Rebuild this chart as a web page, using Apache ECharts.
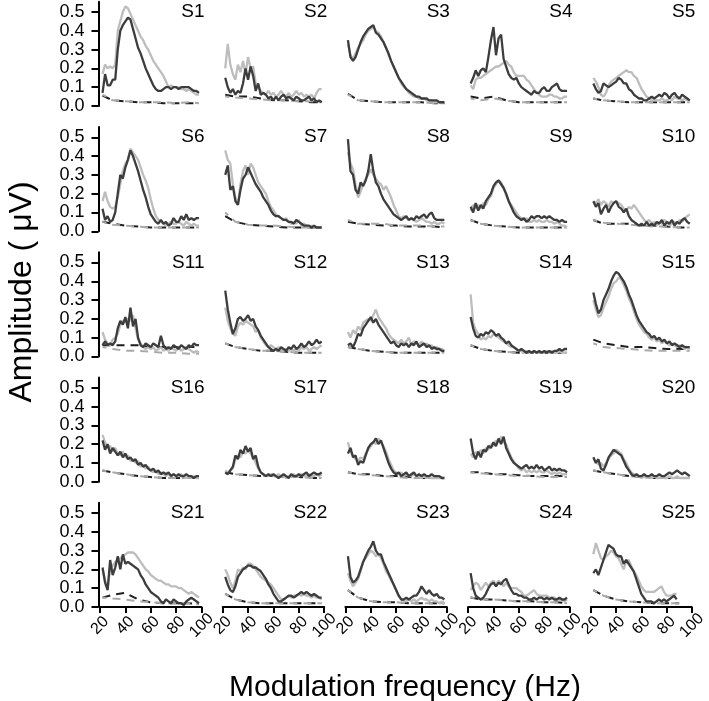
<!DOCTYPE html>
<html>
<head>
<meta charset="utf-8">
<script src="https://cdn.jsdelivr.net/npm/echarts@6/dist/echarts.min.js"></script>
<style>
  html, body { margin: 0; padding: 0; background: #fff; }
  #chart { width: 709px; height: 701px; }
</style>
</head>
<body>
<div id="chart"></div>
<script>
// modulation frequencies (Hz) of the response curves
const freqs = [22, 24, 26, 28, 30, 32, 34, 36, 38, 40, 42, 44, 46, 48, 50, 52, 54, 56, 58, 60,
  62, 64, 66, 68, 70, 72, 74, 76, 78, 80, 82, 84, 86, 88, 90, 92, 94, 96, 98];
// frequencies of the noise-floor (dashed) curves
const noiseFreqs = [22, 30, 40, 50, 60, 70, 80, 90, 98];

const panelNames = ['S1', 'S2', 'S3', 'S4', 'S5', 'S6', 'S7', 'S8', 'S9', 'S10',
  'S11', 'S12', 'S13', 'S14', 'S15', 'S16', 'S17', 'S18', 'S19', 'S20',
  'S21', 'S22', 'S23', 'S24', 'S25'];

const yTicks = [0, 0.1, 0.2, 0.3, 0.4, 0.5];
const xTicks = [20, 40, 60, 80, 100];

// dark grey solid curves, one row per subject
const darkAmp = [
  [.07,.17,.11,.11,.14,.14,.30,.40,.43,.45, .47,.46,.41,.36,.31,.28,.24,.20,.17,.14, .11,.09,.08,.08,.09,.10,.10,.09,.10,.10, .09,.10,.10,.10,.10,.09,.08,.08,.07],
  [.15,.10,.07,.09,.06,.08,.07,.12,.20,.14, .21,.16,.08,.12,.06,.07,.06,.04,.05,.03, .05,.03,.05,.06,.04,.05,.04,.03,.05,.04, .03,.03,.04,.05,.03,.04,.02,.03,.02],
  [.35,.26,.24,.26,.30,.34,.37,.39,.41,.42, .43,.39,.38,.36,.34,.31,.28,.24,.21,.18, .15,.13,.11,.09,.08,.07,.06,.05,.05,.04, .04,.04,.03,.03,.03,.03,.02,.02,.02],
  [.12,.15,.19,.16,.19,.20,.18,.26,.35,.42, .27,.36,.38,.25,.21,.17,.15,.14,.15,.12, .10,.09,.08,.07,.06,.08,.07,.07,.09,.10, .08,.08,.10,.11,.12,.09,.08,.08,.08],
  [.12,.09,.07,.08,.12,.11,.10,.11,.12,.13, .15,.14,.12,.12,.09,.08,.06,.05,.04,.04, .03,.03,.04,.05,.04,.05,.06,.05,.07,.06, .04,.06,.07,.05,.04,.06,.05,.04,.03],
  [.12,.06,.08,.05,.06,.10,.20,.30,.28,.34, .38,.43,.40,.36,.32,.27,.22,.18,.13,.09, .07,.05,.04,.06,.04,.05,.03,.04,.07,.05, .05,.08,.06,.09,.06,.07,.06,.07,.07],
  [.30,.35,.22,.24,.16,.14,.22,.28,.30,.34, .31,.28,.25,.23,.21,.18,.16,.14,.11,.09, .08,.08,.07,.06,.06,.05,.05,.04,.06,.05, .04,.03,.03,.03,.02,.03,.02,.02,.02],
  [.49,.32,.30,.22,.20,.26,.24,.27,.32,.41, .32,.26,.24,.20,.17,.15,.13,.11,.09,.08, .07,.06,.07,.08,.06,.07,.06,.08,.07,.08, .09,.07,.09,.10,.07,.06,.06,.06,.06],
  [.13,.10,.15,.11,.14,.12,.16,.18,.20,.24, .26,.27,.25,.23,.20,.16,.13,.10,.08,.07, .06,.07,.05,.06,.08,.07,.08,.08,.07,.08, .07,.08,.07,.06,.06,.05,.06,.05,.05],
  [.16,.13,.15,.09,.12,.14,.10,.13,.15,.16, .13,.12,.10,.12,.08,.06,.05,.04,.03,.04, .03,.05,.03,.04,.03,.05,.04,.06,.03,.05, .04,.06,.03,.05,.04,.06,.07,.05,.04],
  [.06,.08,.06,.07,.06,.08,.15,.19,.17,.21, .15,.26,.16,.20,.10,.06,.05,.07,.06,.05, .07,.06,.05,.11,.06,.04,.05,.04,.06,.05, .04,.06,.05,.04,.06,.05,.07,.06,.06],
  [.35,.25,.18,.12,.15,.20,.21,.19,.20,.22, .19,.20,.16,.14,.11,.09,.07,.05,.04,.03, .04,.03,.05,.04,.03,.05,.04,.06,.04,.05, .07,.05,.06,.08,.06,.07,.09,.07,.08],
  [.06,.07,.05,.08,.12,.11,.15,.17,.19,.21, .18,.20,.17,.15,.13,.11,.09,.07,.08,.06, .05,.07,.06,.07,.05,.07,.06,.08,.05,.06, .07,.05,.06,.04,.05,.04,.04,.03,.03],
  [.21,.15,.11,.10,.12,.11,.13,.12,.14,.13, .11,.12,.10,.09,.07,.08,.06,.05,.04,.03, .04,.03,.02,.03,.02,.03,.02,.03,.02,.03, .02,.03,.02,.03,.03,.04,.03,.04,.04],
  [.34,.28,.23,.25,.30,.33,.36,.40,.43,.45, .44,.42,.40,.37,.33,.30,.26,.22,.19,.17, .15,.13,.12,.10,.11,.09,.10,.08,.09,.07, .08,.06,.07,.06,.05,.06,.05,.05,.05],
  [.22,.17,.20,.15,.18,.16,.14,.16,.13,.15, .12,.13,.11,.12,.09,.10,.08,.09,.07,.06, .07,.05,.06,.04,.05,.04,.05,.03,.04,.03, .04,.03,.03,.04,.03,.03,.02,.03,.03],
  [.05,.04,.06,.08,.14,.12,.17,.15,.19,.16, .18,.12,.14,.08,.05,.04,.03,.04,.03,.04, .03,.02,.03,.04,.03,.02,.04,.03,.03,.04, .03,.04,.05,.03,.04,.05,.04,.04,.05],
  [.15,.18,.13,.14,.09,.11,.10,.14,.18,.20, .21,.23,.20,.22,.18,.14,.10,.07,.05,.04, .05,.03,.04,.05,.03,.04,.05,.03,.04,.03, .04,.03,.03,.04,.03,.03,.03,.02,.02],
  [.23,.15,.12,.16,.13,.17,.16,.19,.18,.21, .19,.23,.20,.24,.18,.15,.12,.10,.09,.08, .07,.08,.09,.07,.08,.07,.09,.07,.08,.06, .07,.08,.06,.07,.06,.07,.06,.06,.05],
  [.13,.10,.12,.07,.06,.09,.13,.15,.17,.16, .15,.14,.11,.08,.06,.04,.03,.04,.03,.03, .04,.03,.03,.04,.03,.03,.04,.03,.03,.04, .05,.04,.05,.06,.05,.04,.05,.04,.03],
  [.21,.13,.09,.25,.17,.21,.27,.20,.28,.23, .24,.23,.22,.21,.20,.17,.15,.12,.10,.08, .07,.06,.05,.03,.02,.04,.03,.02,.04,.03, .02,.02,.01,.03,.04,.05,.04,.03,.02],
  [.16,.12,.09,.08,.11,.16,.18,.20,.21,.22, .22,.21,.21,.20,.19,.17,.15,.12,.10,.07, .05,.03,.03,.04,.05,.06,.06,.05,.06,.07, .08,.07,.08,.07,.06,.07,.06,.05,.05],
  [.27,.16,.13,.14,.16,.20,.24,.27,.30,.32, .35,.30,.28,.28,.24,.21,.18,.15,.12,.09, .06,.04,.04,.05,.04,.05,.06,.06,.08,.11, .09,.07,.09,.07,.06,.07,.05,.05,.04],
  [.18,.10,.06,.05,.04,.05,.07,.10,.12,.13, .11,.13,.12,.14,.15,.12,.09,.07,.07,.06, .06,.05,.05,.04,.04,.05,.04,.05,.05,.04, .05,.04,.05,.04,.04,.05,.04,.04,.05],
  [.18,.20,.17,.21,.25,.29,.33,.32,.31,.28, .27,.27,.23,.25,.23,.21,.19,.15,.11,.07, .05,.03,.03,.03,.02,.03,.04,.03,.04,.03, .04,.05,.06,.04,null,null,null,null,null]
];

// light grey solid curves
const lightAmp = [
  [.17,.22,.20,.21,.20,.22,.40,.45,.50,.53, .52,.49,.46,.43,.40,.37,.35,.32,.30,.27, .24,.22,.20,.18,.16,.13,.10,.11,.10,.10, .10,.09,.09,.08,.09,.08,.07,.06,.06],
  [.20,.33,.22,.17,.14,.22,.18,.24,.17,.26, .20,.21,.12,.10,.08,.07,.06,.08,.06,.07, .05,.06,.08,.06,.05,.07,.05,.06,.08,.06, .07,.05,.06,.05,.06,.04,.07,.09,.09],
  [.33,.27,.25,.28,.31,.33,.35,.38,.40,.41, .42,.40,.39,.37,.34,.31,.27,.24,.21,.18, .15,.12,.10,.09,.07,.06,.05,.05,.04,.04, .04,.03,.03,.03,.02,.02,.02,.02,.02],
  [.11,.09,.14,.15,.15,.16,.17,.18,.19,.20, .21,.21,.22,.23,.24,.22,.21,.18,.16,.16, .16,.16,.14,.13,.11,.09,.07,.06,.05,.05, .05,.06,.06,.05,.05,.04,.04,.05,.05],
  [.15,.13,.10,.06,.05,.07,.11,.13,.14,.15, .16,.17,.18,.19,.18,.18,.16,.15,.12,.09, .07,.05,.04,.03,.03,.03,.03,.04,.03,.03, .04,.03,.05,.04,.04,.03,.04,.03,.03],
  [.16,.21,.16,.13,.12,.13,.18,.25,.32,.36, .38,.44,.42,.40,.38,.34,.30,.27,.23,.17, .12,.08,.06,.05,.04,.03,.04,.05,.04,.04, .05,.04,.03,.05,.04,.03,.04,.03,.03],
  [.43,.38,.36,.25,.18,.14,.25,.32,.35,.30, .36,.34,.30,.26,.24,.22,.20,.16,.13,.11, .09,.08,.07,.06,.07,.05,.04,.05,.04,.06, .03,.04,.03,.02,.03,.02,.02,.02,.02],
  [.42,.36,.33,.25,.18,.21,.25,.28,.30,.33, .30,.28,.26,.25,.22,.24,.21,.18,.14,.11, .08,.07,.08,.07,.06,.07,.06,.05,.06,.07, .06,.05,.05,.04,.05,.04,.04,.05,.04],
  [.11,.14,.12,.14,.12,.15,.14,.17,.19,.23, .25,.27,.26,.23,.19,.16,.14,.12,.10,.08, .07,.06,.07,.05,.05,.06,.05,.06,.05,.05, .06,.05,.05,.04,.05,.04,.03,.03,.02],
  [.16,.15,.17,.14,.16,.15,.13,.16,.15,.16, .15,.14,.12,.11,.13,.12,.14,.12,.10,.08, .06,.05,.06,.04,.05,.03,.05,.04,.06,.05, .03,.04,.05,.04,.06,.05,.07,.08,.09],
  [.13,.09,.07,.06,.09,.10,.12,.17,.19,.18, .20,.19,.22,.15,.09,.07,.05,.04,.05,.04, .05,.03,.04,.05,.03,.04,.03,.05,.04,.03, .05,.03,.04,.05,.04,.03,.02,.03,.02],
  [.26,.19,.15,.12,.11,.16,.18,.17,.19,.18, .17,.16,.13,.14,.10,.08,.06,.05,.06,.05, .04,.05,.04,.03,.04,.03,.04,.03,.04,.03, .05,.04,.05,.03,.04,.05,.04,.05,.06],
  [.13,.10,.14,.12,.16,.14,.18,.19,.20,.19, .22,.25,.21,.19,.17,.15,.12,.10,.09,.08, .07,.09,.07,.08,.10,.06,.08,.07,.06,.08, .06,.07,.05,.06,.04,.05,.04,.04,.03],
  [.33,.18,.14,.12,.09,.10,.09,.11,.10,.12, .11,.10,.09,.08,.07,.06,.05,.05,.04,.03, .03,.02,.03,.02,.02,.03,.02,.03,.02,.02, .03,.02,.03,.02,.02,.03,.02,.02,.02],
  [.30,.25,.21,.22,.26,.29,.32,.36,.39,.40, .42,.41,.38,.35,.31,.28,.24,.20,.17,.15, .13,.12,.10,.09,.10,.08,.09,.07,.08,.07, .06,.07,.06,.05,.06,.05,.04,.05,.04],
  [.25,.21,.18,.19,.16,.18,.15,.14,.16,.13, .14,.11,.12,.10,.11,.08,.09,.07,.08,.06, .05,.06,.04,.05,.04,.03,.04,.03,.04,.03, .03,.04,.03,.02,.03,.02,.03,.02,.02],
  [.06,.05,.06,.07,.12,.14,.13,.16,.15,.17, .15,.13,.10,.07,.05,.04,.03,.03,.04,.03, .03,.04,.03,.03,.02,.03,.03,.04,.03,.03, .04,.03,.03,.04,.03,.03,.04,.03,.04],
  [.21,.16,.14,.12,.11,.13,.12,.15,.17,.19, .21,.20,.23,.21,.19,.16,.12,.09,.06,.05, .04,.05,.03,.04,.03,.03,.04,.03,.03,.02, .03,.02,.03,.02,.02,.02,.02,.02,.02],
  [.15,.13,.16,.14,.17,.15,.18,.17,.20,.19, .22,.21,.24,.21,.20,.16,.13,.11,.09,.07, .06,.07,.05,.06,.05,.06,.05,.06,.05,.05, .06,.05,.04,.05,.04,.05,.04,.04,.04],
  [.12,.11,.09,.10,.08,.10,.12,.14,.15,.17, .16,.15,.12,.10,.07,.05,.04,.03,.03,.02, .03,.02,.03,.02,.03,.02,.02,.03,.02,.02, .03,.02,.02,.03,.02,.02,.02,.02,.02],
  [.20,.14,.10,.20,.22,.24,.25,.26,.27,.28, .29,.29,.29,.28,.26,.24,.22,.20,.19,.17, .16,.15,.14,.14,.13,.12,.12,.11,.11,.11, .10,.10,.09,.08,.07,.08,.07,.06,.05],
  [.20,.17,.13,.10,.14,.20,.19,.21,.20,.23, .23,.22,.20,.18,.16,.15,.14,.13,.12,.10, .08,.06,.04,.04,.05,.06,.05,.06,.06,.07, .06,.07,.06,.06,.05,.06,.05,.05,.04],
  [.18,.14,.11,.13,.15,.19,.24,.26,.28,.30, .29,.27,.28,.26,.23,.19,.17,.14,.12,.09, .06,.04,.03,.03,.04,.03,.04,.03,.04,.05, .04,.04,.03,.04,.03,.03,.02,.03,.02],
  [.09,.11,.13,.12,.09,.11,.13,.11,.13,.14, .12,.14,.13,.11,.13,.11,.10,.10,.10,.09, .08,.06,.06,.07,.08,.09,.07,.06,.06,.06, .06,.05,.05,.05,.04,.04,.04,.03,.04],
  [.28,.34,.30,.26,.25,.27,.28,.30,.29,.27, .26,.23,.20,.24,.25,.22,.19,.17,.14,.11, .09,.08,.08,.08,.08,.09,.10,.11,.08,.06, .06,.06,.07,.07,null,null,null,null,null]
];

// dark dashed noise floors
const darkNoise = [
  [.055,.03,.025,.02,.02,.015,.015,.015,.015],
  [.06,.05,.05,.04,.03,.03,.025,.02,.02],
  [.065,.03,.025,.02,.02,.02,.02,.015,.015],
  [.05,.04,.05,.03,.02,.02,.02,.02,.02],
  [.04,.03,.025,.02,.02,.02,.02,.02,.02],
  [.05,.04,.03,.025,.02,.02,.02,.02,.02],
  [.08,.05,.035,.03,.025,.02,.02,.02,.02],
  [.05,.04,.035,.03,.03,.025,.025,.025,.02],
  [.06,.04,.03,.025,.02,.02,.02,.02,.02],
  [.06,.04,.04,.04,.03,.03,.025,.02,.02],
  [.06,.06,.06,.06,.05,.05,.05,.05,.05],
  [.07,.05,.04,.03,.03,.025,.02,.02,.02],
  [.05,.04,.03,.025,.02,.02,.02,.02,.02],
  [.06,.04,.03,.025,.02,.02,.02,.02,.02],
  [.09,.07,.06,.05,.05,.045,.04,.04,.04],
  [.06,.05,.04,.03,.025,.02,.02,.02,.02],
  [.05,.04,.035,.03,.03,.025,.025,.02,.02],
  [.05,.04,.04,.03,.03,.025,.02,.02,.02],
  [.05,.05,.04,.04,.035,.03,.03,.03,.03],
  [.06,.05,.04,.03,.025,.02,.02,.02,.02],
  [.05,.065,.075,.04,.025,.02,.02,.02,.015],
  [.07,.04,.025,.02,.02,.02,.02,.02,.02],
  [.09,.05,.03,.025,.025,.02,.02,.02,.02],
  [.05,.04,.04,.035,.03,.03,.025,.025,.02],
  [.09,.06,.04,.03,.025,.02,.02,.02,null]
];

// light dashed noise floors
const lightNoise = [
  [.06,.03,.025,.02,.02,.02,.015,.02,.015],
  [.05,.045,.04,.035,.03,.03,.025,.025,.02],
  [.06,.03,.025,.02,.02,.02,.02,.015,.015],
  [.04,.03,.04,.03,.02,.02,.02,.02,.02],
  [.04,.03,.025,.02,.02,.02,.02,.02,.02],
  [.05,.035,.03,.025,.02,.02,.02,.02,.02],
  [.10,.05,.035,.03,.03,.025,.02,.02,.02],
  [.06,.04,.04,.04,.03,.03,.03,.025,.025],
  [.06,.04,.03,.025,.02,.02,.02,.02,.02],
  [.06,.045,.04,.035,.03,.025,.025,.02,.02],
  [.05,.04,.03,.03,.025,.02,.02,.015,.015],
  [.07,.05,.04,.03,.03,.025,.02,.02,.02],
  [.05,.04,.03,.025,.02,.02,.02,.02,.02],
  [.06,.04,.03,.025,.02,.02,.02,.02,.02],
  [.07,.05,.045,.04,.035,.03,.03,.03,.03],
  [.06,.05,.04,.03,.025,.02,.02,.02,.02],
  [.05,.04,.035,.03,.03,.025,.025,.02,.02],
  [.05,.04,.035,.03,.025,.02,.02,.02,.02],
  [.05,.045,.04,.035,.03,.03,.025,.025,.025],
  [.06,.05,.04,.03,.025,.02,.02,.02,.02],
  [.05,.045,.04,.03,.025,.02,.02,.02,.015],
  [.07,.04,.025,.02,.02,.02,.02,.02,.02],
  [.09,.05,.03,.025,.025,.02,.02,.02,.02],
  [.05,.04,.04,.035,.03,.03,.025,.025,.02],
  [.09,.06,.04,.03,.025,.02,.02,.02,null]
];

const FONT = "'Liberation Sans', Arial, sans-serif";
const COL_X = [100, 222.7, 345.4, 468.1, 590.8];   // pixel x of 20 Hz per column
const ROW_ZERO = [106, 231.25, 356.5, 481.75, 607]; // pixel y of 0.0 per row
const PANEL_W = 101.5;
const Y_MAX = 0.555;
const PANEL_H = Y_MAX * 188;

var chart = echarts.init(document.getElementById('chart'), null, { renderer: 'canvas' });

var grids = [], xAxes = [], yAxes = [], series = [], titles = [];

function pairs(xs, ys) {
  return xs.map(function (x, k) { return [x, ys[k]]; });
}

panelNames.forEach(function (name, i) {
  var r = Math.floor(i / 5), c = i % 5;
  grids.push({ left: COL_X[c], top: ROW_ZERO[r] - PANEL_H, width: PANEL_W, height: PANEL_H });

  var bottomRow = r === 4;
  xAxes.push({
    gridIndex: i, type: 'value', min: 20, max: 100, interval: 20,
    show: bottomRow, offset: 1.5,
    axisLine: { show: true, lineStyle: { color: '#000', width: 2 } },
    axisTick: { show: true, length: 6, customValues: xTicks, lineStyle: { color: '#000', width: 2 } },
    axisLabel: {
      customValues: xTicks, rotate: 45, margin: 17, fontSize: 16, color: '#000', fontFamily: FONT,
      align: 'center', verticalAlign: 'middle', showMinLabel: true, showMaxLabel: true
    },
    splitLine: { show: false }
  });

  var firstCol = c === 0;
  yAxes.push({
    gridIndex: i, type: 'value', min: 0, max: Y_MAX,
    show: firstCol, offset: 1.5,
    axisLine: { show: true, lineStyle: { color: '#000', width: 2 } },
    axisTick: { show: true, length: 7, customValues: yTicks, lineStyle: { color: '#000', width: 2 } },
    axisLabel: {
      customValues: yTicks, margin: 14, fontSize: 18, color: '#000', fontFamily: FONT,
      showMinLabel: true, showMaxLabel: true,
      formatter: function (v) { return v.toFixed(1); }
    },
    splitLine: { show: false }
  });

  titles.push({
    text: name,
    right: 709 - (COL_X[c] + PANEL_W + 3),
    top: ROW_ZERO[r] - 94 - 10,
    padding: 0,
    textStyle: { fontSize: 19, fontWeight: 'normal', color: '#000', fontFamily: FONT, lineHeight: 20 }
  });

  var base = { type: 'line', xAxisIndex: i, yAxisIndex: i, symbol: 'none', silent: true, animation: false };
  series.push(Object.assign({}, base, {
    data: pairs(noiseFreqs, darkNoise[i]),
    lineStyle: { color: '#1e1e1e', width: 2, type: [8, 6] }
  }));
  series.push(Object.assign({}, base, {
    data: pairs(noiseFreqs, lightNoise[i]),
    lineStyle: { color: '#a9a9a9', width: 2, type: [8, 6], dashOffset: 4 }
  }));
  series.push(Object.assign({}, base, {
    data: pairs(freqs, lightAmp[i]),
    lineStyle: { color: '#bdbdbd', width: 2.3 }
  }));
  series.push(Object.assign({}, base, {
    data: pairs(freqs, darkAmp[i]),
    lineStyle: { color: '#3d3d3d', width: 2.3 }
  }));
});

chart.setOption({
  animation: false,
  backgroundColor: '#fff',
  textStyle: { fontFamily: FONT },
  title: titles,
  grid: grids,
  xAxis: xAxes,
  yAxis: yAxes,
  series: series,
  graphic: [
    {
      type: 'text', x: 22, y: 292, rotation: Math.PI / 2,
      style: { text: 'Amplitude ( \u03bcV)', font: '32px ' + FONT, fill: '#000', textAlign: 'center', textVerticalAlign: 'middle' }
    },
    {
      type: 'text', x: 405, y: 688,
      style: { text: 'Modulation frequency (Hz)', font: '30px ' + FONT, fill: '#000', textAlign: 'center', textVerticalAlign: 'middle' }
    }
  ]
});
</script>
</body>
</html>
